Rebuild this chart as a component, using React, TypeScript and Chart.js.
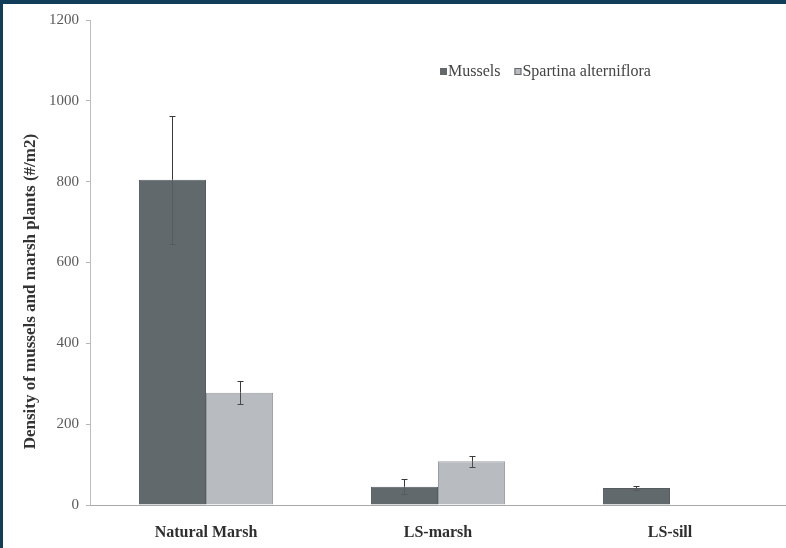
import React, { useEffect, useRef } from "react";
import { Chart, registerables } from "chart.js";

Chart.register(...registerables);

// Sites and measured densities (#/m2)
const sites = ["Natural Marsh", "LS-marsh", "LS-sill"];
const musselDensity = [805, 45, 42];
const musselError = [158, 19, 5];
const spartinaDensity = [278, 108, 0];
const spartinaError = [28, 13, 0];
const yTicks = [0, 200, 400, 600, 800, 1000, 1200];

const seriesNames = ["Mussels", "Spartina alterniflora"];
const darkFill = "#62696d";
const lightFill = "#b8bcc0";
const serif = "'Liberation Serif', 'Times New Roman', serif";

// Draws +/- error whiskers; the part inside a bar uses the dataset's innerErrorColor
const errorBars = {
  id: "errorBars",
  afterDatasetsDraw(chart: any) {
    const ctx = chart.ctx;
    const yScale = chart.scales.y;
    chart.data.datasets.forEach((ds: any, i: number) => {
      const meta = chart.getDatasetMeta(i);
      meta.data.forEach((bar: any, j: number) => {
        const v = ds.data[j];
        const e = ds.errors[j];
        if (!e) return;
        const yTop = Math.round(yScale.getPixelForValue(v + e)) + 0.5;
        const yMid = yScale.getPixelForValue(v);
        const yBot = Math.round(yScale.getPixelForValue(v - e)) + 0.5;
        const x = Math.round(bar.x) + 0.5;
        ctx.save();
        ctx.lineWidth = 1;
        ctx.strokeStyle = "#3a3a3a";
        ctx.beginPath();
        ctx.moveTo(x, yTop);
        ctx.lineTo(x, yMid);
        ctx.moveTo(x - 3, yTop);
        ctx.lineTo(x + 3, yTop);
        ctx.stroke();
        ctx.strokeStyle = ds.innerErrorColor;
        ctx.beginPath();
        ctx.moveTo(x, yMid);
        ctx.lineTo(x, yBot);
        ctx.moveTo(x - 3, yBot);
        ctx.lineTo(x + 3, yBot);
        ctx.stroke();
        ctx.restore();
      });
    });
  },
};

const sideText = {
  id: "sideText",
  afterDraw(chart: any) {
    const ctx = chart.ctx;
    const area = chart.chartArea;
    ctx.save();
    // rotated y-axis title
    ctx.translate(28, area.top + (area.bottom - area.top) * 0.56);
    ctx.rotate(-Math.PI / 2);
    ctx.font = `bold 17px ${serif}`;
    ctx.fillStyle = "#333";
    ctx.textAlign = "center";
    ctx.textBaseline = "middle";
    ctx.fillText("Density of mussels and marsh plants (#/m2)", 0, 0);
    ctx.restore();

    // legend
    ctx.save();
    ctx.font = `16px ${serif}`;
    ctx.textBaseline = "middle";
    ctx.textAlign = "left";
    let x = area.left + 350;
    const y = area.top + 52;
    chart.data.datasets.forEach((ds: any) => {
      ctx.fillStyle = ds.backgroundColor;
      ctx.strokeStyle = "#666";
      ctx.fillRect(x, y - 4, 7, 7);
      ctx.strokeRect(x + 0.5, y - 3.5, 6, 6);
      ctx.fillStyle = "#444";
      ctx.fillText(ds.label, x + 8, y);
      x += 8 + ctx.measureText(ds.label).width + 14;
    });
    ctx.restore();
  },
};

export default function App() {
  const canvasRef = useRef<HTMLCanvasElement>(null);

  useEffect(() => {
    const canvas = canvasRef.current;
    if (!canvas) return;
    const chart = new Chart(canvas, {
      type: "bar",
      data: {
        labels: sites,
        datasets: [
          {
            label: seriesNames[0],
            data: musselDensity,
            errors: musselError,
            innerErrorColor: "#555b5f",
            backgroundColor: darkFill,
            borderColor: "#565c60",
            borderWidth: 1,
          } as any,
          {
            label: seriesNames[1],
            data: spartinaDensity,
            errors: spartinaError,
            innerErrorColor: "#4a4a4a",
            backgroundColor: lightFill,
            borderColor: "#9a9ea2",
            borderWidth: 1,
          } as any,
        ],
      },
      options: {
        responsive: false,
        maintainAspectRatio: false,
        animation: false,
        devicePixelRatio: 1,
        layout: { padding: { top: 16, right: 0, left: 0, bottom: 0 } },
        datasets: { bar: { categoryPercentage: 0.578, barPercentage: 1.0 } },
        plugins: {
          legend: { display: false },
          tooltip: { enabled: false },
        },
        scales: {
          x: {
            grid: { display: false },
            border: { display: true, color: "#a8a8a8", width: 1 },
            ticks: {
              color: "#2e2e2e",
              padding: 10,
              font: { family: serif, size: 16, weight: "bold" },
            },
            afterFit(scale: any) {
              scale.height = 43;
            },
          },
          y: {
            min: 0,
            max: 1200,
            afterBuildTicks(scale: any) {
              scale.ticks = yTicks.map((v) => ({ value: v }));
            },
            grid: {
              display: true,
              drawOnChartArea: false,
              drawTicks: true,
              tickLength: 4,
              color: "#b5b5b5",
            },
            border: { display: true, color: "#bdbdbd", width: 1 },
            ticks: {
              color: "#5a5a5a",
              padding: 7,
              font: { family: serif, size: 15 },
              callback: (value: any) => String(value),
            },
            afterFit(scale: any) {
              scale.width = 87;
            },
          },
        },
      },
      plugins: [errorBars, sideText],
    });
    return () => chart.destroy();
  }, []);

  return (
    <div
      style={{
        position: "fixed",
        left: 0,
        top: 0,
        width: 786,
        height: 548,
        boxSizing: "border-box",
        background: "#ffffff",
        borderTop: "4px solid #123d58",
        borderLeft: "3px solid #123d58",
      }}
    >
      <canvas ref={canvasRef} width={783} height={544} style={{ display: "block" }} />
    </div>
  );
}
